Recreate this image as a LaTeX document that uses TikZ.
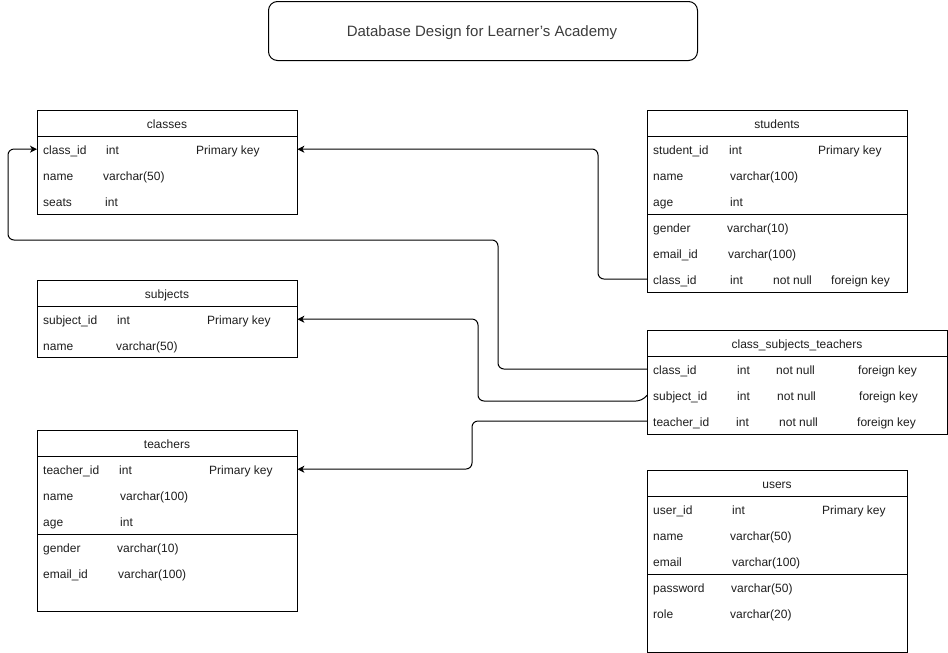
\documentclass[tikz,border=0pt]{standalone}
\usepackage{fontspec}
\setmainfont{Liberation Sans}
\usetikzlibrary{arrows.meta}
\definecolor{txt}{HTML}{1E1E1E}
\definecolor{ttl}{HTML}{3C3C3C}
\tikzset{
  tbl/.style={draw=black, line width=1pt, fill=white, inner sep=0pt, anchor=north west},
  sepline/.style={draw=black, line width=1pt},
  fld/.style={anchor=base west, inner sep=0pt, yshift=-1pt, text=txt, font=\fontsize{12}{14}\selectfont},
  hdr/.style={anchor=base, inner sep=0pt, yshift=-1pt, text=txt, font=\fontsize{12}{14}\selectfont},
  rowbox/.style={draw=none, inner sep=0pt, minimum width=#1, minimum height=26pt, anchor=north west},
  conn/.style={draw=black, line width=1pt, rounded corners=6pt, -{Stealth[length=7pt,width=7pt,inset=2pt]}},
  titlebox/.style={draw=black, line width=1pt, rounded corners=9pt, inner sep=0pt, minimum width=429pt, minimum height=59pt, anchor=north west},
}
\begin{document}
\begin{tikzpicture}[x=1pt,y=-1pt]
\useasboundingbox (0,0) rectangle (948,653);

% title
\node[titlebox] (title) at (268,1) {};
\node[anchor=base, inner sep=0pt, text=ttl, font=\fontsize{15}{17}\selectfont] (titletext) at (482,36) {Database Design for Learner’s Academy};

% ---------- classes ----------
\node[tbl, minimum width=260pt, minimum height=104pt] (classes) at (37,110) {};
\draw[sepline] ([yshift=-26pt]classes.north west) -- ([yshift=-26pt]classes.north east);
\node[rowbox=260pt] (cls-r1) at (37,136) {};
\node[hdr] (cls-h) at (167,127) {classes};
\node[fld] (cls-1a) at (43,153) {class\_id};
\node[fld] (cls-1b) at (106,153) {int};
\node[fld] (cls-1c) at (196,153) {Primary key};
\node[fld] (cls-2a) at (43,179) {name};
\node[fld] (cls-2b) at (103,179) {varchar(50)};
\node[fld] (cls-3a) at (43,205) {seats};
\node[fld] (cls-3b) at (105,205) {int};

% ---------- subjects ----------
\node[tbl, minimum width=260pt, minimum height=77pt] (subjects) at (37,280) {};
\draw[sepline] ([yshift=-26pt]subjects.north west) -- ([yshift=-26pt]subjects.north east);
\node[rowbox=260pt] (sub-r1) at (37,306) {};
\node[hdr] (sub-h) at (167,297) {subjects};
\node[fld] (sub-1a) at (43,323) {subject\_id};
\node[fld] (sub-1b) at (117,323) {int};
\node[fld] (sub-1c) at (207,323) {Primary key};
\node[fld] (sub-2a) at (43,349) {name};
\node[fld] (sub-2b) at (116,349) {varchar(50)};

% ---------- teachers ----------
\node[tbl, minimum width=260pt, minimum height=181pt] (teachers) at (37,430) {};
\draw[sepline] ([yshift=-26pt]teachers.north west) -- ([yshift=-26pt]teachers.north east);
\draw[sepline] ([yshift=-104pt]teachers.north west) -- ([yshift=-104pt]teachers.north east);
\node[rowbox=260pt] (tch-r1) at (37,456) {};
\node[hdr] (tch-h) at (167,447) {teachers};
\node[fld] (tch-1a) at (43,473) {teacher\_id};
\node[fld] (tch-1b) at (119,473) {int};
\node[fld] (tch-1c) at (209,473) {Primary key};
\node[fld] (tch-2a) at (43,499) {name};
\node[fld] (tch-2b) at (120,499) {varchar(100)};
\node[fld] (tch-3a) at (43,525) {age};
\node[fld] (tch-3b) at (120,525) {int};
\node[fld] (tch-4a) at (43,551) {gender};
\node[fld] (tch-4b) at (117,551) {varchar(10)};
\node[fld] (tch-5a) at (43,577) {email\_id};
\node[fld] (tch-5b) at (118,577) {varchar(100)};

% ---------- students ----------
\node[tbl, minimum width=260pt, minimum height=182pt] (students) at (647,110) {};
\draw[sepline] ([yshift=-26pt]students.north west) -- ([yshift=-26pt]students.north east);
\draw[sepline] ([yshift=-104pt]students.north west) -- ([yshift=-104pt]students.north east);
\node[rowbox=260pt] (stu-r6) at (647,266) {};
\node[hdr] (stu-h) at (777,127) {students};
\node[fld] (stu-1a) at (653,153) {student\_id};
\node[fld] (stu-1b) at (729,153) {int};
\node[fld] (stu-1c) at (818,153) {Primary key};
\node[fld] (stu-2a) at (653,179) {name};
\node[fld] (stu-2b) at (730,179) {varchar(100)};
\node[fld] (stu-3a) at (653,205) {age};
\node[fld] (stu-3b) at (730,205) {int};
\node[fld] (stu-4a) at (653,231) {gender};
\node[fld] (stu-4b) at (727,231) {varchar(10)};
\node[fld] (stu-5a) at (653,257) {email\_id};
\node[fld] (stu-5b) at (728,257) {varchar(100)};
\node[fld] (stu-6a) at (653,283) {class\_id};
\node[fld] (stu-6b) at (730,283) {int};
\node[fld] (stu-6c) at (773,283) {not null};
\node[fld] (stu-6d) at (831,283) {foreign key};

% ---------- class_subjects_teachers ----------
\node[tbl, minimum width=300pt, minimum height=104pt] (cst) at (647,330) {};
\draw[sepline] ([yshift=-26pt]cst.north west) -- ([yshift=-26pt]cst.north east);
\node[rowbox=300pt] (cst-r1) at (647,356) {};
\node[rowbox=300pt] (cst-r2) at (647,382) {};
\node[rowbox=300pt] (cst-r3) at (647,408) {};
\node[hdr] (cst-h) at (797,347) {class\_subjects\_teachers};
\node[fld] (cst-1a) at (653,373) {class\_id};
\node[fld] (cst-1b) at (737,373) {int};
\node[fld] (cst-1c) at (776,373) {not null};
\node[fld] (cst-1d) at (858,373) {foreign key};
\node[fld] (cst-2a) at (653,399) {subject\_id};
\node[fld] (cst-2b) at (737,399) {int};
\node[fld] (cst-2c) at (777,399) {not null};
\node[fld] (cst-2d) at (859,399) {foreign key};
\node[fld] (cst-3a) at (653,425) {teacher\_id};
\node[fld] (cst-3b) at (736,425) {int};
\node[fld] (cst-3c) at (779,425) {not null};
\node[fld] (cst-3d) at (857,425) {foreign key};

% ---------- users ----------
\node[tbl, minimum width=260pt, minimum height=182pt] (users) at (647,470) {};
\draw[sepline] ([yshift=-26pt]users.north west) -- ([yshift=-26pt]users.north east);
\draw[sepline] ([yshift=-104pt]users.north west) -- ([yshift=-104pt]users.north east);
\node[hdr] (usr-h) at (777,487) {users};
\node[fld] (usr-1a) at (653,513) {user\_id};
\node[fld] (usr-1b) at (732,513) {int};
\node[fld] (usr-1c) at (822,513) {Primary key};
\node[fld] (usr-2a) at (653,539) {name};
\node[fld] (usr-2b) at (730,539) {varchar(50)};
\node[fld] (usr-3a) at (653,565) {email};
\node[fld] (usr-3b) at (732,565) {varchar(100)};
\node[fld] (usr-4a) at (653,591) {password};
\node[fld] (usr-4b) at (731,591) {varchar(50)};
\node[fld] (usr-5a) at (653,617) {role};
\node[fld] (usr-5b) at (730,617) {varchar(20)};

% ---------- connectors ----------
\draw[conn] (stu-r6.west) -- (598,279) -- (598,149) -- (cls-r1.east);
\draw[conn] (cst-r1.west) -- (498,369) -- (498,240) -- (8,240) -- (8,149) -- (cls-r1.west);
\draw[conn] (cst-r2.west) -- (642,401) -- (478,401) -- (478,319) -- (sub-r1.east);
\draw[conn] (cst-r3.west) -- (472,421) -- (472,469) -- (tch-r1.east);
\end{tikzpicture}
\end{document}
